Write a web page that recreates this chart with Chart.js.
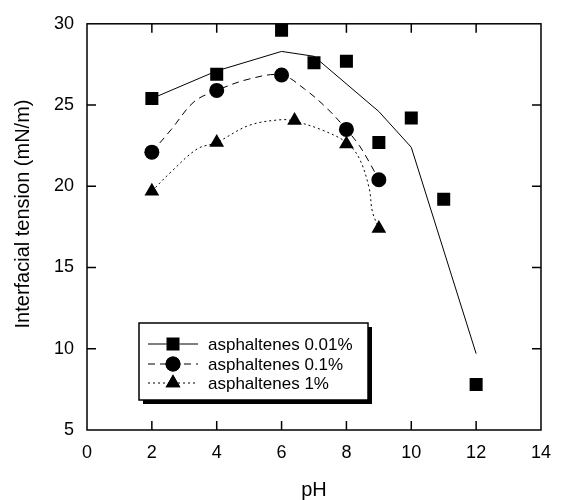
<!DOCTYPE html>
<html>
<head>
<meta charset="utf-8">
<script src="https://cdn.jsdelivr.net/npm/chart.js@4/dist/chart.umd.min.js"></script>
<style>
  html, body { margin: 0; padding: 0; background: #fff; }
  #wrap { width: 563px; height: 500px; }
</style>
</head>
<body>
<div id="wrap"><canvas id="chart" width="563" height="500"></canvas></div>
<script>
// measured points
const phA = [2, 4, 6, 7, 8, 9, 10, 11, 12];
const iftA = [25.4, 26.9, 29.6, 27.6, 27.7, 22.7, 24.2, 19.2, 7.8];
const phB = [2, 4, 6, 8, 9];
const iftB = [22.1, 25.9, 26.85, 23.5, 20.4];
const phC = [2, 4, 6.4, 8, 9];
const iftC = [19.7, 22.7, 24.05, 22.6, 17.4];

// fitted curves
const fitPhA = [2, 4, 6, 7, 9, 10, 12];
const fitA = [25.4, 27.1, 28.3, 28.0, 24.6, 22.4, 9.7];
const fitPhB = [2, 2.6, 3.3, 4, 5, 6, 6.7, 7.4, 8, 8.4, 8.7, 9];
const fitB = [22.1, 23.5, 25.2, 25.9, 26.6, 26.85, 26.0, 24.8, 23.5, 22.5, 21.5, 20.4];
const fitPhC = [2, 2.6, 3.4, 4, 5, 6, 6.4, 7.2, 8, 8.4, 8.7, 8.8, 9];
const fitC = [19.7, 20.9, 22.3, 22.7, 23.75, 24.1, 24.0, 23.5, 22.7, 21.7, 19.9, 18.45, 17.4];

const labels = ['asphaltenes 0.01%', 'asphaltenes 0.1%', 'asphaltenes 1%'];
const xTicks = [0, 2, 4, 6, 8, 10, 12, 14];
const yTicks = [5, 10, 15, 20, 25, 30];
const yTitle = 'Interfacial tension (mN/m)';

const FONT = 'Arial, "Liberation Sans", sans-serif';
const toXY = (xs, ys) => xs.map((x, i) => ({ x, y: ys[i] }));

const markerA = { pointStyle: 'rect', pointRadius: 9.2 };
const markerB = { pointStyle: 'circle', pointRadius: 7.5 };
const markerC = { pointStyle: 'triangle', pointRadius: 8.5 };
const dashA = [], dashB = [7, 5], dashC = [2, 3];

function lineSet(xs, ys, dash, tension) {
    return {
        data: toXY(xs, ys), showLine: true, borderColor: '#000', borderWidth: 1,
        borderDash: dash, pointRadius: 0, tension, fill: false
    };
}
function markerSet(label, xs, ys, m) {
    return {
        label, data: toXY(xs, ys), showLine: false,
        pointStyle: m.pointStyle, pointRadius: m.pointRadius, pointHoverRadius: m.pointRadius,
        backgroundColor: '#000', borderColor: '#000', borderWidth: 0
    };
}

// frame with inward ticks on all four sides, plus the y title
const framePlugin = {
    id: 'frame',
    afterDraw(chart) {
        const { ctx, chartArea: a, scales: { x, y } } = chart;
        const tl = 9;
        ctx.save();
        ctx.strokeStyle = '#000';
        ctx.lineWidth = 1.5;
        ctx.strokeRect(a.left, a.top, a.right - a.left, a.bottom - a.top);
        ctx.beginPath();
        xTicks.slice(1, -1).forEach(v => {
            const px = x.getPixelForValue(v);
            ctx.moveTo(px, a.bottom); ctx.lineTo(px, a.bottom - tl);
            ctx.moveTo(px, a.top); ctx.lineTo(px, a.top + tl);
        });
        yTicks.slice(1, -1).forEach(v => {
            const py = y.getPixelForValue(v);
            ctx.moveTo(a.left, py); ctx.lineTo(a.left + tl, py);
            ctx.moveTo(a.right, py); ctx.lineTo(a.right - tl, py);
        });
        ctx.stroke();

        // y title sits a bit above the axis middle in the original
        ctx.translate(23, 214);
        ctx.rotate(-Math.PI / 2);
        ctx.fillStyle = '#000';
        ctx.font = '20px ' + FONT;
        ctx.textAlign = 'center';
        ctx.textBaseline = 'middle';
        ctx.fillText(yTitle, 0, 0);
        ctx.restore();
    }
};

// boxed legend with line sample + marker
const legendPlugin = {
    id: 'boxLegend',
    afterDraw(chart) {
        const ctx = chart.ctx;
        const bx = 139, by = 323, bw = 229, bh = 77;
        ctx.save();
        ctx.fillStyle = '#000';
        ctx.fillRect(bx + 4, by + 4, bw, bh);
        ctx.fillStyle = '#fff';
        ctx.fillRect(bx, by, bw, bh);
        ctx.strokeStyle = '#000';
        ctx.lineWidth = 1.5;
        ctx.strokeRect(bx, by, bw, bh);

        const entries = [
            { m: markerA, dash: dashA }, { m: markerB, dash: dashB }, { m: markerC, dash: dashC }
        ];
        const rows = [344, 364, 383];
        entries.forEach((e, i) => {
            const ry = rows[i];
            ctx.lineWidth = 1;
            ctx.setLineDash(e.dash);
            ctx.beginPath();
            ctx.moveTo(148, ry); ctx.lineTo(198, ry);
            ctx.stroke();
            ctx.setLineDash([]);
            Chart.helpers.drawPoint(ctx, {
                pointStyle: e.m.pointStyle, radius: e.m.pointRadius, rotation: 0, borderWidth: 0
            }, 173, ry);
            ctx.fillStyle = '#000';
            ctx.fill();
            ctx.font = '17px ' + FONT;
            ctx.textBaseline = 'middle';
            ctx.fillText(labels[i], 208, ry + 1);
        });
        ctx.restore();
    }
};

new Chart(document.getElementById('chart'), {
    type: 'scatter',
    data: {
        datasets: [
            lineSet(fitPhA, fitA, dashA, 0),
            lineSet(fitPhB, fitB, dashB, 0.35),
            lineSet(fitPhC, fitC, dashC, 0.35),
            markerSet(labels[0], phA, iftA, markerA),
            markerSet(labels[1], phB, iftB, markerB),
            markerSet(labels[2], phC, iftC, markerC)
        ]
    },
    options: {
        responsive: false,
        animation: false,
        devicePixelRatio: 1,
        layout: { padding: { top: 21, right: 11, bottom: 0, left: 0 } },
        plugins: { legend: { display: false }, tooltip: { enabled: false } },
        scales: {
            x: {
                type: 'linear', min: 0, max: 14,
                afterBuildTicks: s => { s.ticks = xTicks.map(v => ({ value: v })); },
                afterFit: s => { s.height = 70; },
                grid: { display: false, drawTicks: false },
                border: { display: false },
                ticks: { color: '#000', font: { family: FONT, size: 18 }, padding: 12, maxRotation: 0 },
                title: { display: true, text: 'pH', color: '#000', font: { family: FONT, size: 20, lineHeight: 1 }, padding: { top: 0, bottom: 0 } }
            },
            y: {
                type: 'linear', min: 5, max: 30,
                afterBuildTicks: s => { s.ticks = yTicks.map(v => ({ value: v })); },
                afterFit: s => { s.width = 87; },
                grid: { display: false, drawTicks: false },
                border: { display: false },
                ticks: { color: '#000', font: { family: FONT, size: 18 }, padding: 13 }
            }
        }
    },
    plugins: [framePlugin, legendPlugin]
});
</script>
</body>
</html>
